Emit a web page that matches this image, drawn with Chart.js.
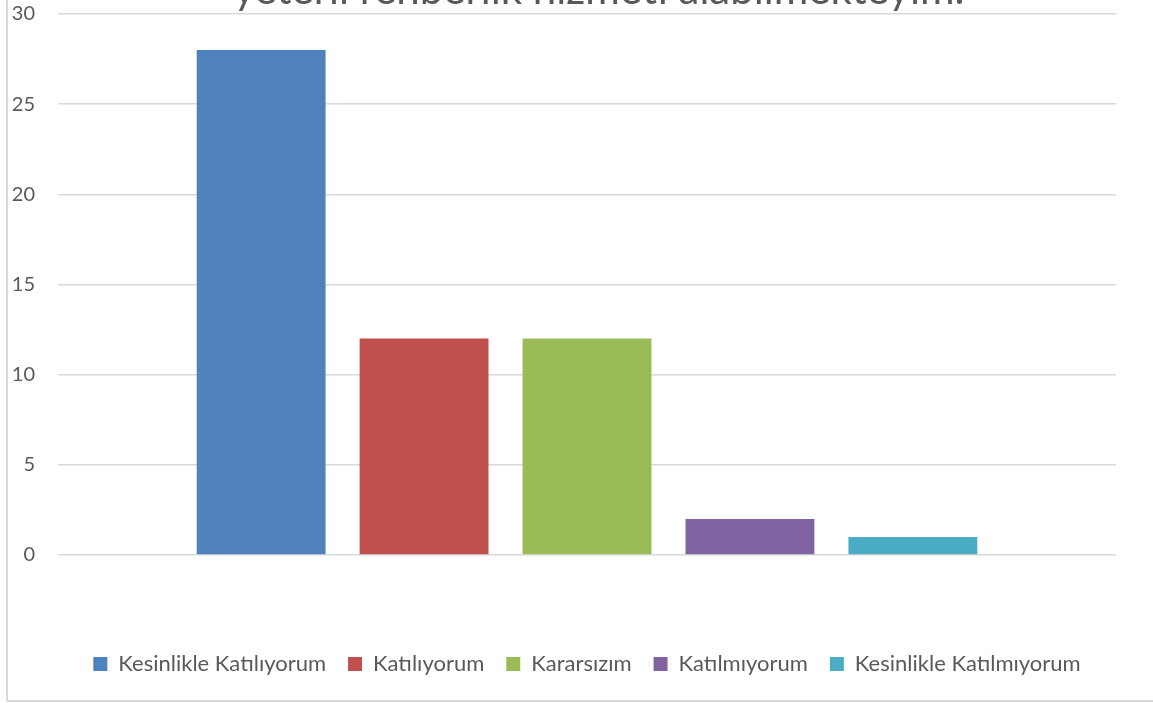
<!DOCTYPE html>
<html>
<head>
<meta charset="utf-8">
<script src="https://cdn.jsdelivr.net/npm/chart.js@4/dist/chart.umd.min.js"></script>
<style>
  html, body { margin: 0; padding: 0; background: #fff; overflow: hidden; width: 1153px; height: 703px; }
  #frame { position: absolute; left: 6px; top: -10px; width: 1300px; height: 712px; box-sizing: border-box; border: 2px solid #d9d9d9; pointer-events: none; }
  #wrap { position: absolute; left: 0; top: -40px; width: 1198px; height: 743px; }
</style>
</head>
<body>
<div id="wrap"><canvas id="c" width="1198" height="743"></canvas></div>
<div id="frame"></div>
<script>
const titleText = 'yeterli rehberlik hizmeti alabilmekteyim.';
const categories = ['Kesinlikle Katılıyorum', 'Katılıyorum', 'Kararsızım', 'Katılmıyorum', 'Kesinlikle Katılmıyorum'];
const values = [28, 12, 12, 2, 1];
const colors = ['#4f81bd', '#c0504d', '#9bbb59', '#8064a2', '#4bacc6'];
const yTicks = [0, 5, 10, 15, 20, 25, 30];

const datasets = categories.map((name, i) => ({
  label: name,
  data: [values[i]],
  backgroundColor: colors[i],
  borderWidth: 0,
  categoryPercentage: 0.770,
  barPercentage: 0.791
}));

new Chart(document.getElementById('c'), {
  type: 'bar',
  data: { labels: [''], datasets },
  options: {
    responsive: false,
    animation: false,
    layout: { padding: { left: 0, right: 0, top: 0, bottom: 18 } },
    plugins: {
      title: {
        display: true,
        text: titleText,
        color: '#595959',
        font: { family: 'Lato', size: 42, weight: 'normal', lineHeight: 1 },
        padding: { top: 9, bottom: 3 }
      },
      legend: {
        position: 'bottom',
        fullSize: false,
        labels: {
          boxWidth: 14, boxHeight: 14, padding: 22,
          color: '#595959',
          font: { family: 'Lato', size: 22 }
        }
      },
      tooltip: { enabled: false }
    },
    scales: {
      x: {
        grid: { display: false },
        border: { display: false },
        ticks: { display: false },
        afterFit: s => { s.height = 76; }
      },
      y: {
        min: 0, max: 30,
        afterBuildTicks: s => { s.ticks = yTicks.map(v => ({ value: v })); },
        grid: { color: '#d9d9d9', lineWidth: 1.5, drawTicks: false },
        border: { display: false },
        ticks: { color: '#595959', padding: 23, font: { family: 'Lato', size: 20 } },
        afterFit: s => { s.width = 58; }
      },
      yR: {
        position: 'right',
        display: true,
        min: 0, max: 30,
        grid: { display: false },
        border: { display: false },
        ticks: { display: false },
        afterFit: s => { s.width = 82; }
      }
    }
  }
});
</script>
</body>
</html>
